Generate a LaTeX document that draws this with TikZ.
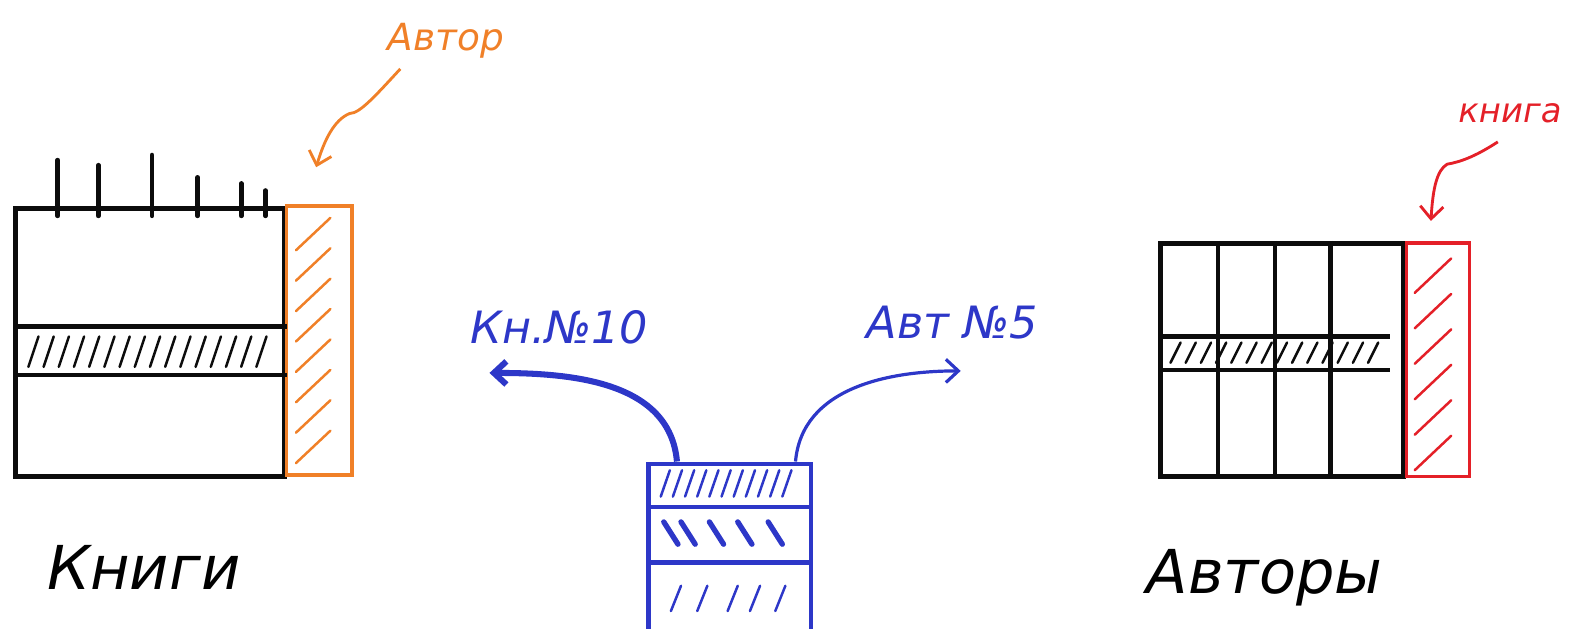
\documentclass[tikz,border=0pt]{standalone}
\usepackage{fontspec}
\setmainfont{DejaVu Sans}
\usetikzlibrary{positioning,calc}
\usetikzlibrary{arrows.meta}
\definecolor{InkBlack}{RGB}{12,12,12}
\definecolor{AuthOrange}{RGB}{240,128,40}
\definecolor{LinkBlue}{RGB}{45,55,200}
\definecolor{BookRed}{RGB}{228,32,40}
\tikzset{
	tbl/.style={draw=InkBlack,line width=2.6pt,inner sep=0pt},
	ink/.style={draw=InkBlack,line width=2.6pt,line cap=round},
	rowline/.style={draw=InkBlack,line width=2.6pt},
	fkbox/.style={draw=#1,line width=2pt,inner sep=0pt},
	hatch/.style={line width=1.4pt,line cap=round},
	note/.style={font=\fontsize{21}{24}\selectfont\itshape,inner sep=0pt},
	caption/.style={font=\fontsize{34}{38}\selectfont\itshape,inner sep=0pt},
}

\begin{document}
\begin{tikzpicture}[x=0.02cm,y=-0.02cm,>={Straight Barb[length=7pt,width=13pt]}]
					\useasboundingbox (0,0) rectangle (1568,620);
					\node[tbl,minimum width=5.3cm,minimum height=5.3cm] (books) at (148,338) {};
					\node[fkbox=AuthOrange,minimum width=1.3cm,minimum height=5.3cm] (bookfk) at (315,336) {};
					\draw[rowline] (books.west |- 0,322) -- (books.east |- 0,322);
					\draw[rowline] (books.west |- 0,370) -- (books.east |- 0,370);
					\foreach \x/\h in {57/55,97/50,150/60,195/38,238/32,262/25}
						\draw[ink] (\x,213) -- (\x,213-\h);
					\foreach \x in {28,43,...,263}
						\draw[hatch,InkBlack] (\x,362) -- (\x+10,332);
					\foreach \y in {215,245,...,425}
						\draw[hatch,AuthOrange] (292,\y+32) -- (326,\y);
					\node[note,text=AuthOrange] (autTag) at (440,40) {Автор};
					\coordinate (autFrom) at (395,68);
					\coordinate (autTo) at (312,165);
					\draw[AuthOrange,line width=1.6pt,->] (autFrom) .. controls (370,95) and (355,112) .. (345,112)
						.. controls (330,118) and (320,138) .. (autTo);
					\node[caption] (booksCap) at (142,560) {Книги};
					\node[draw=LinkBlue,line width=2.4pt,inner sep=0pt,minimum width=3.2cm,minimum height=3.3cm] (link) at (720,540) {};
					\draw[LinkBlue,line width=2.4pt] (link.west |- 0,500) -- (link.east |- 0,500);
					\draw[LinkBlue,line width=2.4pt] (link.west |- 0,555) -- (link.east |- 0,555);
					\foreach \x in {652,664,...,772}
						\draw[hatch,LinkBlue] (\x,490) -- (\x+9,464);
					\foreach \x in {655,672,700,728,758}
						\draw[LinkBlue,line width=3pt,line cap=round] (\x,515) -- (\x+14,537);
					\foreach \x in {662,688,718,740,765}
						\draw[hatch,LinkBlue] (\x,603) -- (\x+10,578);
					\node[note,text=LinkBlue,font=\fontsize{25}{28}\selectfont\itshape] (bookRef) at (552,323) {Кн.№10};
					\node[note,text=LinkBlue,font=\fontsize{25}{28}\selectfont\itshape] (autRef) at (940,318) {Авт №5};
					\coordinate (bookRefTo) at (483,368);
					\coordinate (autRefTo) at (948,366);
					\draw[LinkBlue,line width=3.4pt,->] ($(link.north)+(-52,0)$) to[out=95,in=0] (bookRefTo);
					\draw[LinkBlue,line width=1.8pt,->] ($(link.north)+(65,0)$) to[out=85,in=180] (autRefTo);
					\node[tbl,minimum width=4.8cm,minimum height=4.6cm] (authors) at (1265,355) {};
					\node[fkbox=BookRed,minimum width=1.24cm,minimum height=4.6cm] (autfk) at (1419,355) {};
					\foreach \x in {1202,1258,1313}
						\draw[rowline] (\x,0 |- authors.north) -- (\x,0 |- authors.south);
					\draw[rowline] (authors.west |- 0,332) -- (1372,332);
					\draw[rowline] (authors.west |- 0,365) -- (1372,365);
					\foreach \x in {1155,1170,...,1360}
						\draw[hatch,InkBlack] (\x,358) -- (\x+10,338);
					\foreach \y in {255,290,...,430}
						\draw[hatch,BookRed] (1396,\y+34) -- (1432,\y);
					\node[note,text=BookRed,font=\fontsize{19}{22}\selectfont\itshape] (bookTag) at (1490,112) {книга};
					\coordinate (bookFrom) at (1478,140);
					\coordinate (bookTo) at (1412,218);
					\draw[BookRed,line width=1.6pt,->] (bookFrom) .. controls (1455,155) and (1440,160) .. (1428,162)
						.. controls (1418,168) and (1414,185) .. (bookTo);
					\node[caption] (authorsCap) at (1248,570) {Авторы};
				\end{tikzpicture}
\end{document}
